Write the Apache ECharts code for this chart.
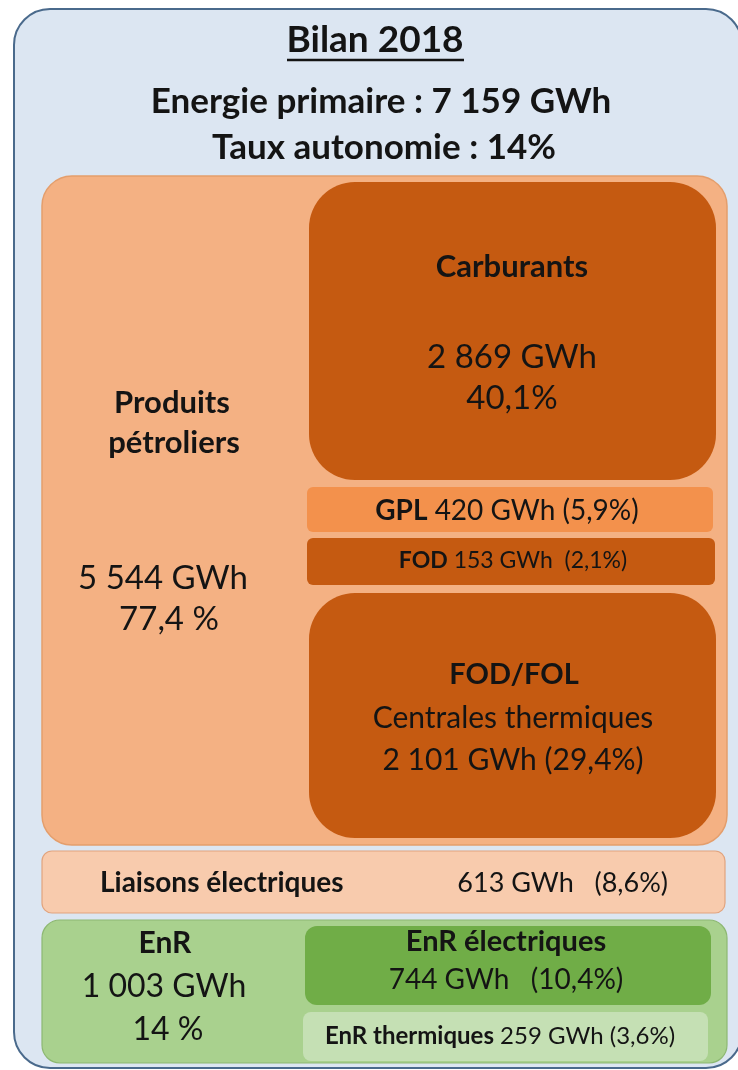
<!DOCTYPE html>
<html>
<head>
<meta charset="utf-8">
<script src="https://cdn.jsdelivr.net/npm/echarts@6/dist/echarts.min.js"></script>
<style>
  html, body { margin: 0; background: #fff; }
  #chart { width: 738px; height: 1070px; }
</style>
</head>
<body>
<div id="chart"></div>
<script>
// --- data ---
const title = 'Bilan 2018';
const totalGWh = 7159;
const autonomyPct = 14;
const groups = ['Produits pétroliers', 'EnR'];
const groupGWh = [5544, 1003];
const groupPct = [77.4, 14];
const items = ['Carburants', 'GPL', 'FOD', 'FOD/FOL', 'Liaisons électriques', 'EnR électriques', 'EnR thermiques'];
const itemNotes = ['', '', '', 'Centrales thermiques', '', '', ''];
const itemGWh = [2869, 420, 153, 2101, 613, 744, 259];
const itemPct = [40.1, 5.9, 2.1, 29.4, 8.6, 10.4, 3.6];

// --- layout (pixel units on hidden axes) ---
const boxes = [
  { key: 'outer', x0: 14, y0: 9, x1: 742, y1: 1068, r: 36, fill: '#dce6f2', stroke: '#4a6a8c', lw: 2 },
  { key: 'g0', x0: 42, y0: 176, x1: 727, y1: 845, r: 30, fill: '#f4b183', stroke: '#e49e6c', lw: 1.5 },
  { key: 0, x0: 309, y0: 182, x1: 716, y1: 480, r: 46, fill: '#c55a11' },
  { key: 1, x0: 307, y0: 487, x1: 713, y1: 532, r: 6, fill: '#f3914c' },
  { key: 2, x0: 307, y0: 538, x1: 715, y1: 585, r: 6, fill: '#c55a11' },
  { key: 3, x0: 309, y0: 593, x1: 716, y1: 838, r: 46, fill: '#c55a11' },
  { key: 4, x0: 42, y0: 851, x1: 725, y1: 913, r: 10, fill: '#f8cbad', stroke: '#e2a47e', lw: 1.2 },
  { key: 'g1', x0: 42, y0: 920, x1: 727, y1: 1063, r: 18, fill: '#a9d18e', stroke: '#8db872', lw: 1.2 },
  { key: 5, x0: 305, y0: 926, x1: 711, y1: 1005, r: 12, fill: '#70ad47' },
  { key: 6, x0: 303, y0: 1012, x1: 708, y1: 1061, r: 8, fill: '#c5e0b4' }
];

const FONT = 'Lato, "Open Sans", sans-serif';
const INK = '#141414';
const fr = n => String(n).replace(/\B(?=(\d{3})+(?!\d))/g, ' ');
const pc = v => String(v).replace('.', ',');

// text rows: [text, x, y, size, align]
function rowsFor(key) {
  switch (key) {
    case 'outer': return [
      ['{b|' + title + '}', 375, 40, 37],
      ['{b|Energie primaire : ' + fr(totalGWh) + ' GWh}', 381, 102, 35],
      ['{b|Taux autonomie : ' + autonomyPct + '%}', 384, 148, 35]
    ];
    case 'g0': {
      const w = groups[0].split(' ');
      return [
        ['{b|' + w[0] + '}', 172, 403, 31],
        ['{b|' + w[1] + '}', 174, 443, 31],
        [fr(groupGWh[0]) + ' GWh', 163, 578, 33],
        [pc(groupPct[0]) + ' %', 169, 619, 33]
      ];
    }
    case 0: return [
      ['{b|' + items[0] + '}', 512, 267, 31],
      [fr(itemGWh[0]) + ' GWh', 512, 357, 33],
      [pc(itemPct[0]) + '%', 512, 398, 33]
    ];
    case 1: return [['{b|' + items[1] + '} ' + itemGWh[1] + ' GWh (' + pc(itemPct[1]) + '%)', 507, 511, 28]];
    case 2: return [['{b|' + items[2] + '} ' + itemGWh[2] + ' GWh  (' + pc(itemPct[2]) + '%)', 513, 561, 23]];
    case 3: return [
      ['{b|' + items[3] + '}', 514, 675, 29],
      [itemNotes[3], 513, 718, 30],
      [fr(itemGWh[3]) + ' GWh (' + pc(itemPct[3]) + '%)', 513, 760, 30]
    ];
    case 4: return [
      ['{b|' + items[4] + '}', 100, 883, 28, 'left'],
      [itemGWh[4] + ' GWh   (' + pc(itemPct[4]) + '%)', 668, 883, 27, 'right']
    ];
    case 'g1': return [
      ['{b|' + groups[1] + '}', 165, 943, 30],
      [fr(groupGWh[1]) + ' GWh', 164, 987, 32],
      [groupPct[1] + ' %', 168, 1030, 32]
    ];
    case 5: return [
      ['{b|' + items[5] + '}', 506, 942, 29],
      [itemGWh[5] + ' GWh   (' + pc(itemPct[5]) + '%)', 506, 980, 28]
    ];
    case 6: return [['{b|' + items[6] + '} ' + itemGWh[6] + ' GWh (' + pc(itemPct[6]) + '%)', 500, 1036, 24]];
  }
  return [];
}

const chart = echarts.init(document.getElementById('chart'));

function renderItem(params, api) {
  const b = boxes[api.value(4)];
  const p0 = api.coord([api.value(0), api.value(1)]);
  const p1 = api.coord([api.value(2), api.value(3)]);
  const children = [{
    type: 'rect',
    shape: { x: p0[0], y: p0[1], width: p1[0] - p0[0], height: p1[1] - p0[1], r: b.r },
    style: { fill: b.fill, stroke: b.stroke || null, lineWidth: b.lw || 0 }
  }];
  rowsFor(b.key).forEach(function (row) {
    const pt = api.coord([row[1], row[2]]);
    children.push({
      type: 'text',
      x: pt[0],
      y: pt[1],
      style: {
        text: row[0],
        fill: INK,
        fontFamily: FONT,
        fontSize: row[3],
        align: row[4] || 'center',
        verticalAlign: 'middle',
        rich: { b: { fontWeight: 'bold', fontFamily: FONT, fontSize: row[3], fill: INK } }
      }
    });
  });
  if (b.key === 'outer') {
    // underline under the title
    const a = api.coord([287, 60]);
    const c = api.coord([464, 60]);
    children.push({
      type: 'line',
      shape: { x1: a[0], y1: a[1], x2: c[0], y2: c[1] },
      style: { stroke: INK, lineWidth: 2.5 }
    });
  }
  return { type: 'group', children: children };
}

chart.setOption({
  animation: false,
  grid: { left: 0, right: 0, top: 0, bottom: 0 },
  xAxis: { type: 'value', min: 0, max: 738, show: false },
  yAxis: { type: 'value', min: 0, max: 1070, inverse: true, show: false },
  series: [{
    type: 'custom',
    clip: false,
    renderItem: renderItem,
    data: boxes.map((b, i) => [b.x0, b.y0, b.x1, b.y1, i])
  }]
});
</script>
</body>
</html>
